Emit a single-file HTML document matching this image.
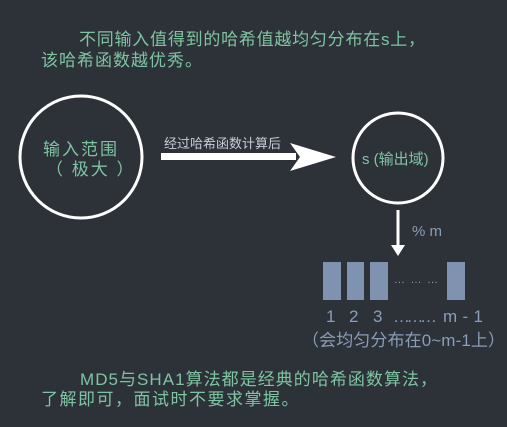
<!DOCTYPE html>
<html><head><meta charset="utf-8"><style>
html,body{margin:0;padding:0;background:#2d3239;}
svg{display:block}
text{font-family:"Liberation Sans","Noto Sans CJK SC",sans-serif;}
</style></head><body>
<svg width="507" height="427" viewBox="0 0 507 427">
<rect width="507" height="427" fill="#2d3239"/>
<g fill="#7ec4a2" font-size="17">
<text x="79" y="45" textLength="346">不同输入值得到的哈希值越均匀分布在s上，</text>
<text x="41" y="66" letter-spacing="1">该哈希函数越优秀。</text>
<text x="43" y="155" font-size="17" letter-spacing="2">输入范围</text>
<text x="46" y="175" font-size="17" letter-spacing="2">（ 极大 ）</text>
<text x="362" y="164" font-size="15">s (输出域)</text>
<text x="80" y="385" textLength="357">MD5与SHA1算法都是经典的哈希函数算法，</text>
<text x="41" y="405" letter-spacing="1.5">了解即可，面试时不要求掌握。</text>
</g>
<circle cx="81" cy="157" r="61" fill="none" stroke="#fff" stroke-width="3"/>
<circle cx="398" cy="158" r="45" fill="none" stroke="#fff" stroke-width="3"/>
<text x="164" y="148" fill="#c8ccd6" font-size="13">经过哈希函数计算后</text>
<rect x="161" y="153" width="135" height="7" fill="#fff"/>
<polygon points="290,143 336,157 290,171 300,157" fill="#fff"/>
<line x1="398" y1="210" x2="398" y2="250" stroke="#fff" stroke-width="3"/>
<polygon points="391,245 398,256 405,245" fill="#fff"/>
<text x="412" y="236" fill="#8a9cb8" font-size="15">% m</text>
<g fill="#7f93b1">
<rect x="323" y="262" width="18" height="38"/>
<rect x="347" y="262" width="17" height="38"/>
<rect x="370" y="262" width="18" height="38"/>
<rect x="447" y="262" width="18" height="38"/>
</g>
<text x="394" y="283" fill="#8a9cb8" font-size="11" textLength="44">………</text>
<g fill="#8a9cb8" font-size="17">
<text x="326" y="322">1</text>
<text x="349" y="322">2</text>
<text x="373" y="322">3</text>
<text x="393" y="322" textLength="44">………</text>
<text x="443" y="322" textLength="40">m - 1</text>
<text x="302" y="346" textLength="203">（会均匀分布在0~m-1上）</text>
</g>
</svg>
</body></html>
